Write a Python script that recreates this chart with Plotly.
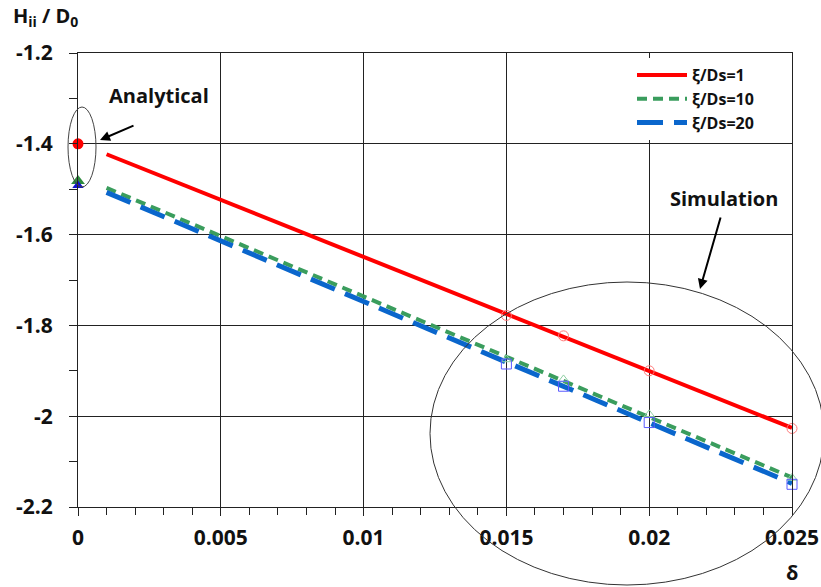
import plotly.graph_objects as go

# ---- data ----
line_delta = [0.001, 0.025]
red_line = [-1.423, -2.026]
green_line = [-1.497, -2.135]
blue_line = [-1.507, -2.148]

sim_delta = [0.015, 0.017, 0.02, 0.025]
red_sim = [-1.778, -1.823, -1.900, -2.027]
green_sim = [-1.875, -1.919, -1.996, -2.136]
blue_sim = [-1.885, -1.934, -2.014, -2.150]

ana_delta = [0.0]
red_ana = [-1.400]
green_ana = [-1.482]
blue_ana = [-1.492]

series_names = ["ξ/Ds=1", "ξ/Ds=10", "ξ/Ds=20"]
x_ticks = [0, 0.005, 0.01, 0.015, 0.02, 0.025]
x_ticktext = ["0", "0.005", "0.01", "0.015", "0.02", "0.025"]
y_ticks = [-2.2, -2.0, -1.8, -1.6, -1.4, -1.2]
y_ticktext = ["-2.2", "-2", "-1.8", "-1.6", "-1.4", "-1.2"]

RED = "#ff0000"
GREEN = "#3a9d5d"
BLUE = "#0a66cc"
FONT = "Open Sans"

W, H = 821, 587
L, R, T, B = 78, 29, 53, 80
PW, PH = W - L - R, H - T - B


def px(x):
    return (x - L) / PW


def py(y):
    return (H - B - y) / PH


fig = go.Figure()

# lines
fig.add_trace(go.Scatter(x=line_delta, y=red_line, mode="lines", name=series_names[0],
                         line=dict(color=RED, width=4)))
fig.add_trace(go.Scatter(x=line_delta, y=green_line, mode="lines", name=series_names[1],
                         line=dict(color=GREEN, width=4, dash="10px,6px")))
fig.add_trace(go.Scatter(x=line_delta, y=blue_line, mode="lines", name=series_names[2],
                         line=dict(color=BLUE, width=5, dash="26px,11px")))

# simulation markers
fig.add_trace(go.Scatter(x=sim_delta, y=red_sim, mode="markers", showlegend=False, cliponaxis=False,
                         marker=dict(symbol="circle-open", size=10, color="#ff7a7a", line=dict(width=1))))
fig.add_trace(go.Scatter(x=sim_delta, y=green_sim, mode="markers", showlegend=False, cliponaxis=False,
                         marker=dict(symbol="triangle-up-open", size=9, color="#8fd0a4", line=dict(width=1))))
fig.add_trace(go.Scatter(x=sim_delta, y=blue_sim, mode="markers", showlegend=False, cliponaxis=False,
                         marker=dict(symbol="square-open", size=10, color="#5a5aff", line=dict(width=1))))

# analytical markers
fig.add_trace(go.Scatter(x=ana_delta, y=red_ana, mode="markers", showlegend=False, cliponaxis=False,
                         marker=dict(symbol="circle", size=11, color=RED)))
fig.add_trace(go.Scatter(x=ana_delta, y=green_ana, mode="markers", showlegend=False, cliponaxis=False,
                         marker=dict(symbol="triangle-up", size=12, color="#2e8b3e")))
fig.add_trace(go.Scatter(x=ana_delta, y=blue_ana, mode="markers", showlegend=False, cliponaxis=False,
                         marker=dict(symbol="triangle-up", size=10, color="#1010d0")))

axis_common = dict(showline=True, linecolor="#222", linewidth=1, mirror=True,
                   showgrid=True, gridcolor="#222", gridwidth=1, zeroline=False,
                   ticks="outside", ticklen=8, tickcolor="#222", tickwidth=1,
                   tickfont=dict(family=FONT, size=21, color="#111", weight="bold"))

fig.update_xaxes(range=[0, 0.025], tickvals=x_ticks, ticktext=x_ticktext,
                 ticklabelstandoff=4,
                 minor=dict(dtick=0.001, ticks="outside", ticklen=7, tickcolor="#222", showgrid=False),
                 **axis_common)
fig.update_yaxes(range=[-2.2, -1.2], tickvals=y_ticks, ticktext=y_ticktext,
                 ticklabelstandoff=12,
                 minor=dict(dtick=0.1, ticks="outside", ticklen=8, tickcolor="#222", showgrid=False),
                 **axis_common)

shapes = [
    dict(type="circle", xref="paper", yref="paper",
         x0=px(68), x1=px(96), y0=py(187), y1=py(107),
         line=dict(color="#444", width=1)),
    dict(type="circle", xref="paper", yref="paper",
         x0=px(430), x1=px(824), y0=py(585), y1=py(282),
         line=dict(color="#333", width=1)),
]

annotations = [
    dict(text="H<sub>ii</sub> / D<sub>0</sub>", xref="paper", yref="paper",
         x=px(11), y=py(33), xanchor="left", yanchor="bottom", showarrow=False,
         font=dict(family=FONT, size=20, color="#111", weight="bold")),
    dict(text="δ", xref="paper", yref="paper", x=px(800), y=py(572),
         xanchor="right", yanchor="middle", showarrow=False,
         font=dict(family=FONT, size=20, color="#111", weight="bold")),
    dict(text="Analytical", xref="paper", yref="paper", x=px(159), y=py(96),
         xanchor="center", yanchor="middle", showarrow=False,
         font=dict(family=FONT, size=20, color="#111", weight="bold")),
    dict(text="Simulation", xref="paper", yref="paper", x=px(724), y=py(198),
         xanchor="center", yanchor="middle", showarrow=False,
         font=dict(family=FONT, size=20, color="#111", weight="bold")),
    dict(text="", xref="paper", yref="paper", x=px(100), y=py(140),
         ax=35, ay=-15, showarrow=True, arrowhead=2, arrowsize=1, arrowwidth=2,
         arrowcolor="#000"),
    dict(text="", xref="paper", yref="paper", x=px(700), y=py(289),
         ax=21, ay=-73, showarrow=True, arrowhead=2, arrowsize=1, arrowwidth=2,
         arrowcolor="#000"),
]

fig.update_layout(
    width=W, height=H, autosize=False,
    margin=dict(l=L, r=R, t=T, b=B, pad=0, autoexpand=False),
    paper_bgcolor="white", plot_bgcolor="white",
    shapes=shapes, annotations=annotations,
    legend=dict(x=px(632), y=py(58), xanchor="left", yanchor="top",
                bgcolor="white", borderwidth=0, itemwidth=50,
                font=dict(family=FONT, size=16, color="#111", weight="bold")),
)

fig.write_html("out.html")
